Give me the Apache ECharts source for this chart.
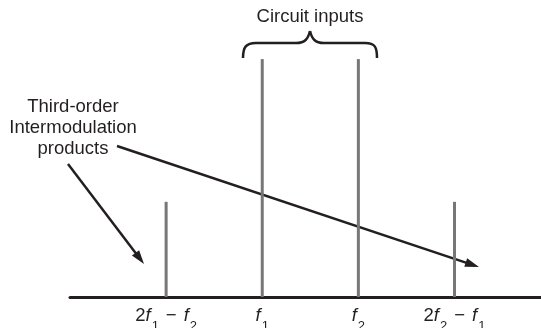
<!DOCTYPE html>
<html>
<head>
<meta charset="utf-8">
<script src="https://cdn.jsdelivr.net/npm/echarts@6/dist/echarts.min.js"></script>
<style>
  html, body { margin: 0; padding: 0; background: #fff; }
  #chart { width: 541px; height: 328px; }
</style>
</head>
<body>
<div id="chart"></div>
<script>
// spectral lines: position on the frequency axis and relative amplitude
var positions = [1, 2, 3, 4];
var amplitudes = [1, 2.5, 2.5, 1];
var tickLabels = ['', '{n|2}{i|f}{s|1}{m|−}{i|f}{s|2}', '{i|f}{s|1}', '{i|f}{s|2}', '{n|2}{i|f}{s|2}{m|−}{i|f}{s|1}'];

var font = '"Liberation Sans", Arial, Helvetica, sans-serif';
var ink = '#231f20';
var stroke = { stroke: ink, lineWidth: 2.5, fill: null };

// arrow line + head as graphic elements
function arrow(x1, y1, x2, y2) {
  var dx = x2 - x1, dy = y2 - y1;
  var len = Math.sqrt(dx * dx + dy * dy);
  var ux = dx / len, uy = dy / len;
  var hl = 14, hw = 4.5;
  var bx = x2 - ux * hl, by = y2 - uy * hl;
  return [
    {
      type: 'line',
      shape: { x1: x1, y1: y1, x2: x2 - ux * 6, y2: y2 - uy * 6 },
      style: { stroke: ink, lineWidth: 2.5 }
    },
    {
      type: 'polygon',
      shape: { points: [[x2, y2], [bx - uy * hw, by + ux * hw], [bx + uy * hw, by - ux * hw]] },
      style: { fill: ink }
    }
  ];
}

// curly brace over the two inputs
function curve(x1, y1, cx1, cy1, cx2, cy2, x2, y2) {
  return {
    type: 'bezierCurve',
    shape: { x1: x1, y1: y1, cpx1: cx1, cpy1: cy1, cpx2: cx2, cpy2: cy2, x2: x2, y2: y2 },
    style: stroke
  };
}
function seg(x1, y1, x2, y2) {
  return { type: 'line', shape: { x1: x1, y1: y1, x2: x2, y2: y2 }, style: stroke };
}
var brace = [
  curve(243, 58, 243, 47, 246, 43, 256, 43),
  seg(256, 43, 296, 43),
  curve(296, 43, 305, 43, 308, 39, 310, 31),
  curve(310, 31, 312, 39, 315, 43, 324, 43),
  seg(324, 43, 365, 43),
  curve(365, 43, 375, 43, 377, 47, 377, 58)
];

var chart = echarts.init(document.getElementById('chart'));

var graphics = [
  {
    type: 'text',
    x: 310, y: 17,
    style: { text: 'Circuit inputs', font: '18.5px ' + font, fill: ink, align: 'center', verticalAlign: 'middle' }
  },
  {
    type: 'text',
    x: 73, y: 128,
    style: {
      text: 'Third-order\nIntermodulation\nproducts',
      font: '18.5px ' + font, lineHeight: 21, fill: ink, align: 'center', verticalAlign: 'middle'
    }
  }
].concat(brace).concat(arrow(68, 164, 144, 264)).concat(arrow(117, 146, 479, 267));

chart.setOption({
  animation: false,
  grid: { left: 70, right: 0, top: 11.5, bottom: 31, outerBoundsMode: 'none' },
  xAxis: {
    type: 'value',
    min: 0,
    max: 4.9,
    interval: 1,
    splitLine: { show: false },
    axisTick: { show: false },
    axisLine: { lineStyle: { color: ink, width: 3 } },
    axisLabel: {
      margin: 1,
      showMaxLabel: false,
      formatter: function (v) { return tickLabels[v] || ''; },
      rich: {
        n: { fontSize: 18.5, fontFamily: font, color: ink },
        m: { fontSize: 18.5, fontFamily: font, color: ink, padding: [0, 7, 0, 7] },
        i: { fontSize: 18.5, fontFamily: font, fontStyle: 'italic', color: ink },
        s: { fontSize: 13, fontFamily: font, color: ink, padding: [22, 0, 0, 1] }
      }
    }
  },
  yAxis: {
    type: 'value',
    min: 0,
    max: 3,
    show: false
  },
  series: [{
    type: 'bar',
    barWidth: 3,
    itemStyle: { color: '#777777' },
    data: positions.map(function (p, i) { return [p, amplitudes[i]]; }),
    z: 1
  }],
  graphic: graphics
});
</script>
</body>
</html>
